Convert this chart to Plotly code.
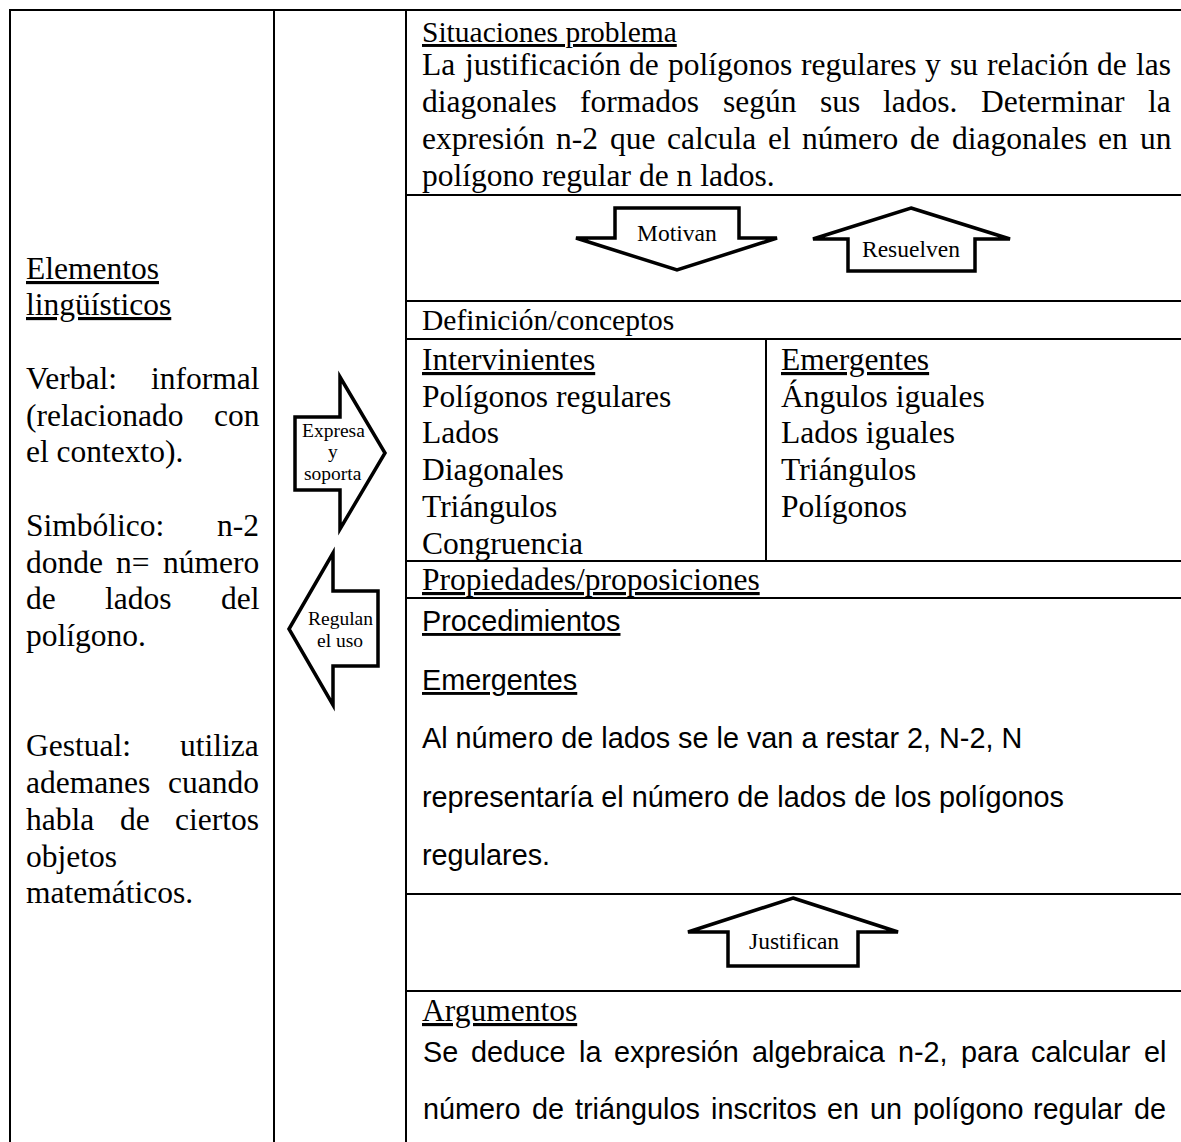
import plotly.graph_objects as go

# ---------------- content (text of the diagram) ----------------
left_heading = ["Elementos", "lingüísticos"]
left_paragraphs = [
    ["Verbal: informal", "(relacionado con", "el contexto)."],
    ["Simbólico: n-2", "donde n= número", "de lados del", "polígono."],
    ["Gestual: utiliza", "ademanes cuando", "habla de ciertos", "objetos", "matemáticos."],
]
right_arrow_label = ["Expresa", "y", "soporta"]
left_arrow_label = ["Regulan", "el uso"]

situaciones_title = "Situaciones problema"
situaciones_lines = [
    "La justificación de polígonos regulares y su relación de las",
    "diagonales formados según sus lados. Determinar la",
    "expresión n-2 que calcula el número de diagonales en un",
    "polígono regular de n lados.",
]
motivan_label = "Motivan"
resuelven_label = "Resuelven"
definicion_title = "Definición/conceptos"
intervinientes_title = "Intervinientes"
intervinientes_items = ["Polígonos regulares", "Lados", "Diagonales", "Triángulos", "Congruencia"]
emergentes_title = "Emergentes"
emergentes_items = ["Ángulos iguales", "Lados iguales", "Triángulos", "Polígonos"]
propiedades_title = "Propiedades/proposiciones"
procedimientos_title = "Procedimientos"
procedimientos_subtitle = "Emergentes"
procedimientos_lines = [
    "Al número de lados se le van a restar 2, N-2, N",
    "representaría el número de lados de los polígonos",
    "regulares.",
]
justifican_label = "Justifican"
argumentos_title = "Argumentos"
argumentos_lines = [
    "Se deduce la expresión algebraica n-2, para calcular el",
    "número de triángulos inscritos en un polígono regular de",
]

# ---------------- font metrics (Times / Helvetica compatible) ----------------
SERIF = "Liberation Serif"
SANS = "Liberation Sans"
TIMES = {' ': 250, '(': 333, ')': 333, ',': 250, '-': 333, '.': 250, '/': 278, ':': 278, '=': 564,
         'A': 722, 'D': 722, 'E': 611, 'G': 722, 'I': 333, 'L': 611, 'M': 889, 'N': 722, 'P': 556,
         'R': 667, 'S': 556, 'T': 611, 'V': 722, 'Á': 722, 'C': 667, 'J': 389,
         'a': 444, 'b': 500, 'c': 444, 'd': 500, 'e': 444, 'f': 333, 'g': 500, 'h': 500, 'i': 278,
         'j': 278, 'k': 500, 'l': 278, 'm': 778, 'n': 500, 'o': 500, 'p': 500, 'q': 500, 'r': 333,
         's': 389, 't': 278, 'u': 500, 'v': 500, 'w': 722, 'x': 500, 'y': 500, 'z': 444,
         'á': 444, 'é': 444, 'í': 278, 'ó': 500, 'ú': 500, 'ü': 500, 'ñ': 500}
HELV = {' ': 278, ',': 278, '.': 278, '-': 333, '2': 556, 'A': 667, 'N': 722, 'S': 667, 'P': 667,
        'E': 667, 'a': 556, 'b': 556, 'c': 500, 'd': 556, 'e': 556, 'f': 278, 'g': 556, 'h': 556,
        'i': 222, 'j': 222, 'k': 500, 'l': 222, 'm': 833, 'n': 556, 'o': 556, 'p': 556, 'q': 556,
        'r': 333, 's': 500, 't': 278, 'u': 556, 'v': 500, 'w': 722, 'x': 500, 'y': 500, 'z': 500,
        'á': 556, 'é': 556, 'í': 222, 'ó': 556, 'ú': 556}
METRICS = {SERIF: (TIMES, 0.3375), SANS: (HELV, 0.3465)}

W, H = 1181, 1142
annotations = []
shapes = []


def text_width(txt, font, size):
    table = METRICS[font][0]
    return sum(table.get(ch, 500) for ch in txt) / 1000.0 * size


def put(x, baseline, txt, font, size, underline=False, anchor="left"):
    yc = baseline - METRICS[font][1] * size
    annotations.append(dict(
        x=x, y=yc, xref="x", yref="y", showarrow=False, borderpad=0,
        text=f"<u>{txt}</u>" if underline else txt,
        xanchor=anchor, yanchor="middle",
        font=dict(family=font, size=size, color="black")))


def put_line(x0, x1, baseline, txt, font, size, justify=False, underline=False):
    words = txt.split(" ")
    if justify and len(words) > 1:
        ws = [text_width(w, font, size) for w in words]
        gap = (x1 - x0 - sum(ws)) / (len(words) - 1)
        x = x0
        for w, wd in zip(words, ws):
            put(x, baseline, w, font, size, underline)
            x += wd + gap
    else:
        put(x0, baseline, txt, font, size, underline)


def hline(y, x0, x1, w=2):
    shapes.append(dict(type="line", x0=x0, x1=x1, y0=y, y1=y, xref="x", yref="y",
                       line=dict(color="black", width=w)))


def vline(x, y0, y1, w=2):
    shapes.append(dict(type="line", x0=x, x1=x, y0=y0, y1=y1, xref="x", yref="y",
                       line=dict(color="black", width=w)))


def arrow(points):
    path = "M " + " L ".join(f"{px},{py}" for px, py in points) + " Z"
    shapes.append(dict(type="path", path=path, xref="x", yref="y", fillcolor="white",
                       line=dict(color="black", width=3.5)))


# ---------------- table grid ----------------
hline(10, 9, W + 5)
for xv in (10, 274, 406):
    vline(xv, 9, H + 5)
for yv in (195, 301, 339, 561, 598, 894, 991):
    hline(yv, 406, W + 5)
vline(766, 339, 561)

# ---------------- left column ----------------
LS = 36.75
FS = 31.5
LX0, LX1 = 25, 258
b = 278.7
for t in left_heading:
    put_line(LX0, LX1, b, t, SERIF, FS, underline=True)
    b += LS
blank_after = [1, 1, 2, 0]
b += LS * blank_after[0]
for pi, para in enumerate(left_paragraphs):
    for li, t in enumerate(para):
        put_line(LX0, LX1, b, t, SERIF, FS, justify=(li < len(para) - 1))
        b += LS
    b += LS * blank_after[pi + 1]

# ---------------- middle arrows ----------------
arrow([(295, 417), (340, 417), (340, 377), (385, 453), (340, 529), (340, 490), (295, 490)])
for i, t in enumerate(right_arrow_label):
    put(333, 436.7 + 21.8 * i, t, SERIF, 19.5, anchor="center")
arrow([(289, 629), (333, 553), (333, 591), (378, 591), (378, 666), (333, 666), (333, 705)])
for i, t in enumerate(left_arrow_label):
    put(340, 625 + 21.8 * i, t, SERIF, 19.5, anchor="center")

# ---------------- right column ----------------
RX0, RX1 = 421, 1170
put_line(RX0, RX1, 41.5, situaciones_title, SERIF, 29.5, underline=True)
b = 75.5
for i, t in enumerate(situaciones_lines):
    put_line(RX0, RX1, b, t, SERIF, FS, justify=(i < len(situaciones_lines) - 1))
    b += 36.8

arrow([(615, 208), (739, 208), (739, 238), (777, 238), (677, 270), (576, 238), (615, 238)])
put(676.5, 241, motivan_label, SERIF, 23.5, anchor="center")
arrow([(911, 208), (1010, 239), (975, 239), (975, 271), (848, 271), (848, 239), (813, 239)])
put(911, 256.7, resuelven_label, SERIF, 23.5, anchor="center")

put_line(RX0, RX1, 330, definicion_title, SERIF, 29.5)

b = 370
put_line(RX0, 760, b, intervinientes_title, SERIF, FS, underline=True)
for i, t in enumerate(intervinientes_items):
    put_line(RX0, 760, b + LS * (i + 1), t, SERIF, FS)
put_line(780, RX1, b, emergentes_title, SERIF, FS, underline=True)
for i, t in enumerate(emergentes_items):
    put_line(780, RX1, b + LS * (i + 1), t, SERIF, FS)

put_line(RX0, RX1, 590, propiedades_title, SERIF, FS, underline=True)

SS = 28.8
PS = 58.6
b = 631
put_line(RX0, RX1, b, procedimientos_title, SANS, SS, underline=True)
put_line(RX0, RX1, b + PS, procedimientos_subtitle, SANS, SS, underline=True)
for i, t in enumerate(procedimientos_lines):
    put_line(RX0, RX1, b + PS * (i + 2), t, SANS, SS)

arrow([(793, 898), (898, 932), (858, 932), (858, 966), (728, 966), (728, 932), (688, 932)])
put(793.5, 949.3, justifican_label, SERIF, 23.5, anchor="center")

put_line(RX0, RX1, 1021, argumentos_title, SERIF, FS, underline=True)
b = 1062
for i, t in enumerate(argumentos_lines):
    put_line(RX0 + 1, 1165, b, t, SANS, SS, justify=True)
    b += 57

# ---------------- figure ----------------
fig = go.Figure()
fig.update_layout(
    width=W, height=H,
    margin=dict(l=0, r=0, t=0, b=0),
    paper_bgcolor="white", plot_bgcolor="white",
    xaxis=dict(range=[0, W], visible=False, fixedrange=True),
    yaxis=dict(range=[H, 0], visible=False, fixedrange=True),
    shapes=shapes, annotations=annotations, showlegend=False,
    hovermode=False,
)
# place the canvas at the page origin (no default body margin / scrollbars)
fig.write_html(
    "out.html",
    config={"displayModeBar": False, "staticPlot": True},
    post_script="document.body.style.margin='0';document.body.style.overflow='hidden';",
)
